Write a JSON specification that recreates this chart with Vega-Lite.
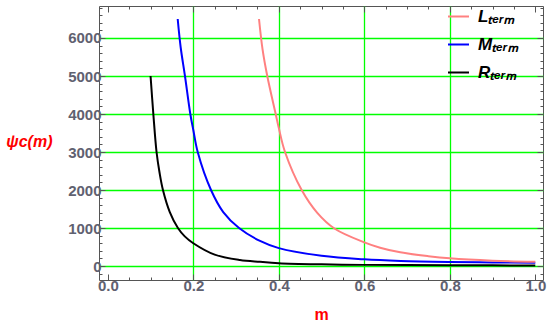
{
  "$schema": "https://vega.github.io/schema/vega-lite/v6.json",
  "width": 444,
  "height": 274,
  "autosize": {"type": "none"},
  "padding": {"left": 99, "top": 6, "right": 7, "bottom": 49},
  "background": "white",
  "config": {
    "view": {"stroke": "#555555", "strokeWidth": 1},
    "axis": {
      "domain": false,
      "labelFont": "Liberation Sans",
      "labelFontWeight": "bold",
      "labelFontSize": 15,
      "labelColor": "#5f6170",
      "tickColor": "#555555",
      "title": null
    }
  },
  "data": {
    "values": [
      {"s": "R", "m": 0.1, "v": 5000},
      {"s": "R", "m": 0.1065, "v": 4000},
      {"s": "R", "m": 0.114, "v": 3000},
      {"s": "R", "m": 0.121, "v": 2460},
      {"s": "R", "m": 0.129, "v": 2000},
      {"s": "R", "m": 0.145, "v": 1420},
      {"s": "R", "m": 0.164, "v": 1000},
      {"s": "R", "m": 0.18, "v": 780},
      {"s": "R", "m": 0.2, "v": 600},
      {"s": "R", "m": 0.25, "v": 300},
      {"s": "R", "m": 0.309, "v": 158},
      {"s": "R", "m": 0.356, "v": 110},
      {"s": "R", "m": 0.4, "v": 75},
      {"s": "R", "m": 0.5, "v": 45},
      {"s": "R", "m": 0.6, "v": 30},
      {"s": "R", "m": 0.7, "v": 24},
      {"s": "R", "m": 0.8, "v": 20},
      {"s": "R", "m": 0.9, "v": 17},
      {"s": "R", "m": 1.0, "v": 15},
      {"s": "M", "m": 0.1635, "v": 6500},
      {"s": "M", "m": 0.1705, "v": 5750},
      {"s": "M", "m": 0.1805, "v": 5000},
      {"s": "M", "m": 0.193, "v": 4000},
      {"s": "M", "m": 0.2, "v": 3580},
      {"s": "M", "m": 0.2103, "v": 3000},
      {"s": "M", "m": 0.2414, "v": 2000},
      {"s": "M", "m": 0.27, "v": 1420},
      {"s": "M", "m": 0.307, "v": 1000},
      {"s": "M", "m": 0.356, "v": 660},
      {"s": "M", "m": 0.4, "v": 470},
      {"s": "M", "m": 0.5, "v": 270},
      {"s": "M", "m": 0.6, "v": 176},
      {"s": "M", "m": 0.685, "v": 135},
      {"s": "M", "m": 0.8, "v": 108},
      {"s": "M", "m": 0.9, "v": 95},
      {"s": "M", "m": 1.0, "v": 88},
      {"s": "L", "m": 0.3537, "v": 6500},
      {"s": "L", "m": 0.362, "v": 5700},
      {"s": "L", "m": 0.373, "v": 5000},
      {"s": "L", "m": 0.3927, "v": 4000},
      {"s": "L", "m": 0.4, "v": 3630},
      {"s": "L", "m": 0.4145, "v": 3000},
      {"s": "L", "m": 0.4535, "v": 2000},
      {"s": "L", "m": 0.49, "v": 1400},
      {"s": "L", "m": 0.531, "v": 980},
      {"s": "L", "m": 0.6, "v": 623},
      {"s": "L", "m": 0.637, "v": 482},
      {"s": "L", "m": 0.684, "v": 360},
      {"s": "L", "m": 0.75, "v": 258},
      {"s": "L", "m": 0.8, "v": 202},
      {"s": "L", "m": 0.9, "v": 140},
      {"s": "L", "m": 1.0, "v": 110}
    ]
  },
  "resolve": {"axis": {"x": "independent", "y": "independent"}},
  "layer": [
    {
      "mark": {"type": "line", "strokeWidth": 2, "interpolate": "catmull-rom", "clip": true},
      "encoding": {
        "x": {
          "field": "m", "type": "quantitative",
          "scale": {"domain": [-0.0206, 1.018], "nice": false, "zero": false},
          "axis": {
            "orient": "bottom", "values": [0, 0.2, 0.4, 0.6, 0.8, 1.0], "format": ".1f",
            "grid": false, "tickSize": -6, "labelPadding": 4,
            "title": "m", "titleColor": "#ff0000", "titleFont": "Liberation Sans",
            "titleFontWeight": "bold", "titleFontSize": 16, "titlePadding": 13
          }
        },
        "y": {
          "field": "v", "type": "quantitative",
          "scale": {"domain": [-368, 6842], "nice": false, "zero": false},
          "axis": {
            "orient": "left", "values": [0, 1000, 2000, 3000, 4000, 5000, 6000], "format": "d",
            "grid": true, "gridColor": "#00ff00", "gridWidth": 1.3, "gridOpacity": 1,
            "tickSize": -6, "labelPadding": 4,
            "title": "ψc(m)", "titleColor": "#ff0000", "titleFont": "Liberation Sans",
            "titleFontWeight": "bold", "titleFontStyle": "italic", "titleFontSize": 16,
            "titleAngle": 0, "titleAlign": "right", "titleBaseline": "middle",
            "titleX": -47, "titleY": 135
          }
        },
        "color": {
          "field": "s", "type": "nominal",
          "scale": {"domain": ["L", "M", "R"], "range": ["#ff8080", "#0000ff", "#000000"]},
          "legend": {
            "orient": "none", "legendX": 348, "legendY": -1, "title": null,
            "symbolType": "stroke", "symbolSize": 441, "symbolStrokeWidth": 2,
            "labelFont": "Liberation Sans", "labelFontWeight": "bold", "labelFontStyle": "italic",
            "labelFontSize": 17, "labelColor": "#000000", "labelOffset": 8,
            "rowPadding": 8, "padding": 0,
            "labelExpr": "datum.label + 'ₜₑᵣₘ'"
          }
        }
      }
    },
    {
      "mark": {"type": "point", "opacity": 0},
      "encoding": {
        "x": {"field": "m", "type": "quantitative",
          "axis": {"orient": "bottom", "values": [0.2, 0.4, 0.6, 0.8], "grid": true,
            "gridColor": "#00ff00", "gridWidth": 1.3, "gridOpacity": 1, "ticks": false, "labels": false}},
        "y": {"field": "v", "type": "quantitative",
          "axis": {"orient": "left", "values": [-200, 200, 400, 600, 800, 1200, 1400, 1600, 1800, 2200, 2400, 2600, 2800, 3200, 3400, 3600, 3800, 4200, 4400, 4600, 4800, 5200, 5400, 5600, 5800, 6200, 6400, 6600, 6800],
            "grid": false, "tickSize": -3, "labels": false}}
      }
    },
    {
      "mark": {"type": "point", "opacity": 0},
      "encoding": {
        "x": {"field": "m", "type": "quantitative",
          "axis": {"orient": "bottom", "values": [0.05, 0.1, 0.15, 0.25, 0.3, 0.35, 0.45, 0.5, 0.55, 0.65, 0.7, 0.75, 0.85, 0.9, 0.95],
            "grid": false, "tickSize": -3, "labels": false}},
        "y": {"field": "v", "type": "quantitative",
          "axis": {"orient": "right", "values": [0, 1000, 2000, 3000, 4000, 5000, 6000],
            "grid": false, "tickSize": -6, "labels": false}}
      }
    },
    {
      "mark": {"type": "point", "opacity": 0},
      "encoding": {
        "x": {"field": "m", "type": "quantitative",
          "axis": {"orient": "top", "values": [0, 0.2, 0.4, 0.6, 0.8, 1.0],
            "grid": false, "tickSize": -6, "labels": false}},
        "y": {"field": "v", "type": "quantitative",
          "axis": {"orient": "right", "values": [-200, 200, 400, 600, 800, 1200, 1400, 1600, 1800, 2200, 2400, 2600, 2800, 3200, 3400, 3600, 3800, 4200, 4400, 4600, 4800, 5200, 5400, 5600, 5800, 6200, 6400, 6600, 6800],
            "grid": false, "tickSize": -3, "labels": false}}
      }
    },
    {
      "mark": {"type": "point", "opacity": 0},
      "encoding": {
        "x": {"field": "m", "type": "quantitative",
          "axis": {"orient": "top", "values": [0.05, 0.1, 0.15, 0.25, 0.3, 0.35, 0.45, 0.5, 0.55, 0.65, 0.7, 0.75, 0.85, 0.9, 0.95],
            "grid": false, "tickSize": -3, "labels": false}},
        "y": {"field": "v", "type": "quantitative", "axis": null}
      }
    }
  ]
}
